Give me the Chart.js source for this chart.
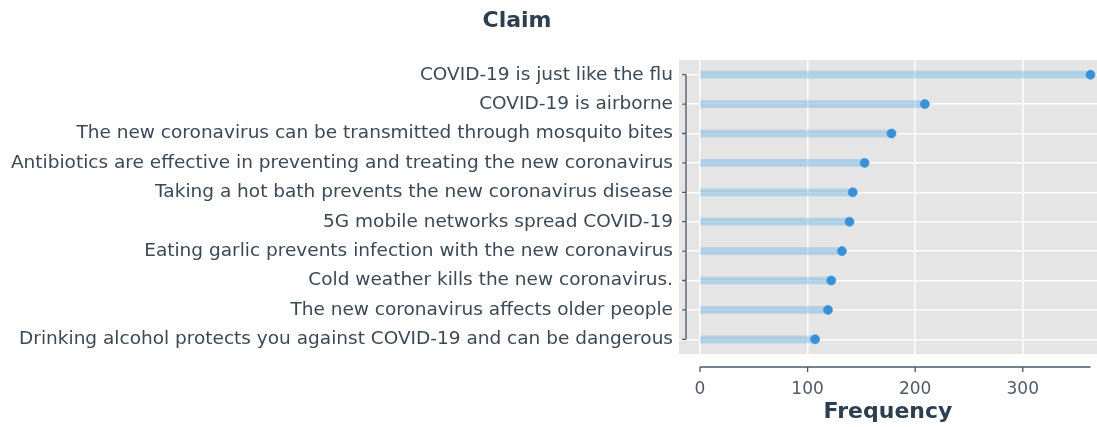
<!DOCTYPE html>
<html>
<head>
<meta charset="utf-8">
<script src="https://cdn.jsdelivr.net/npm/chart.js@4/dist/chart.umd.min.js"></script>
<style>
  html, body { margin: 0; padding: 0; background: #ffffff; overflow: hidden; }
  #wrap { width: 1097px; height: 427px; position: relative; }
</style>
</head>
<body>
<div id="wrap"><canvas id="c" width="1097" height="427"></canvas></div>
<script>
const claims = [
  "COVID-19 is just like the flu",
  "COVID-19 is airborne",
  "The new coronavirus can be transmitted through mosquito bites",
  "Antibiotics are effective in preventing and treating the new coronavirus",
  "Taking a hot bath prevents the new coronavirus disease",
  "5G mobile networks spread COVID-19",
  "Eating garlic prevents infection with the new coronavirus",
  "Cold weather kills the new coronavirus.",
  "The new coronavirus affects older people",
  "Drinking alcohol protects you against COVID-19 and can be dangerous"
];
const frequency = [363, 209, 178, 153, 142, 139, 132, 122, 119, 107];
const xTicks = [0, 100, 200, 300];
const chartTitle = "Claim";
const xTitle = "Frequency";

const FONT = "'DejaVu Sans', 'Liberation Sans', sans-serif";
const SPINE = '#4a5866';

const bgPlugin = {
  id: 'bg',
  beforeDraw(chart) {
    const {ctx, chartArea: a} = chart;
    ctx.save();
    ctx.fillStyle = '#e5e5e5';
    ctx.fillRect(a.left, a.top, a.right - a.left, a.bottom - a.top);
    ctx.restore();
  }
};

const decoPlugin = {
  id: 'deco',
  afterDraw(chart) {
    const {ctx, chartArea: a} = chart;
    const xs = chart.scales.x, ys = chart.scales.y;
    ctx.save();
    // title
    ctx.fillStyle = '#2c3e50';
    ctx.font = "bold 22px " + FONT;
    ctx.textAlign = 'center';
    ctx.textBaseline = 'middle';
    ctx.fillText(chartTitle, 517, 21);
    // left spine (trimmed to categories)
    ctx.strokeStyle = SPINE;
    ctx.lineWidth = 1.3;
    const sx = a.left + 7;
    const y0 = ys.getPixelForValue(0), y1 = ys.getPixelForValue(claims.length - 1);
    ctx.beginPath();
    ctx.moveTo(sx, y0); ctx.lineTo(sx, y1);
    for (let i = 0; i < claims.length; i++) {
      const y = ys.getPixelForValue(i);
      ctx.moveTo(sx - 4, y); ctx.lineTo(sx, y);
    }
    ctx.stroke();
    // bottom spine (offset, trimmed)
    const by = a.bottom + 13;
    ctx.beginPath();
    ctx.moveTo(xs.getPixelForValue(0), by);
    ctx.lineTo(xs.getPixelForValue(Math.max(...frequency)), by);
    for (const t of xTicks) {
      const x = xs.getPixelForValue(t);
      ctx.moveTo(x, by); ctx.lineTo(x, by + 5);
    }
    ctx.stroke();
    ctx.restore();
  }
};

new Chart(document.getElementById('c'), {
  type: 'bar',
  data: {
    labels: claims,
    datasets: [
      {
        data: frequency,
        backgroundColor: 'rgba(52,152,219,0.28)',
        borderWidth: 0,
        barThickness: 7,
        grouped: false,
        order: 3
      },
      {
        data: frequency,
        backgroundColor: 'rgba(52,152,219,0.12)',
        borderWidth: 0,
        barThickness: 2,
        grouped: false,
        order: 2
      },
      {
        type: 'line',
        indexAxis: 'y',
        data: frequency,
        showLine: false,
        pointRadius: 4.5,
        pointHoverRadius: 4.5,
        pointBackgroundColor: '#3a8fd6',
        pointBorderColor: 'rgba(52,152,219,0.7)',
        pointBorderWidth: 1,
        clip: false,
        order: 1
      }
    ]
  },
  options: {
    indexAxis: 'y',
    responsive: false,
    animation: false,
    layout: { autoPadding: false, padding: { top: 60, right: 0, left: 0, bottom: 0 } },
    plugins: { legend: { display: false }, tooltip: { enabled: false }, title: { display: false } },
    scales: {
      x: {
        type: 'linear',
        min: -19.5,
        max: 369,
        afterBuildTicks(scale) { scale.ticks = xTicks.map(v => ({ value: v })); },
        afterFit(scale) { scale.height = 73; scale.paddingRight = 0; scale.paddingLeft = 0; },
        grid: { color: '#ffffff', lineWidth: 1.5, drawTicks: false },
        border: { display: false },
        ticks: {
          color: '#4f5b66',
          font: { family: FONT, size: 17 },
          padding: 25
        },
        title: {
          display: true,
          text: xTitle,
          color: '#2c3e50',
          font: { family: FONT, size: 22, weight: 'bold' },
          padding: { top: 0, bottom: 2 }
        }
      },
      y: {
        type: 'category',
        offset: true,
        afterFit(scale) { scale.width = 679; scale.paddingTop = 0; scale.paddingBottom = 0; },
        grid: { color: '#ffffff', lineWidth: 1.5, drawTicks: false, offset: false },
        border: { display: false },
        ticks: {
          color: '#3b4856',
          font: { family: FONT, size: 18.5 },
          padding: 6,
          autoSkip: false
        }
      }
    }
  },
  plugins: [bgPlugin, decoPlugin]
});
</script>
</body>
</html>
